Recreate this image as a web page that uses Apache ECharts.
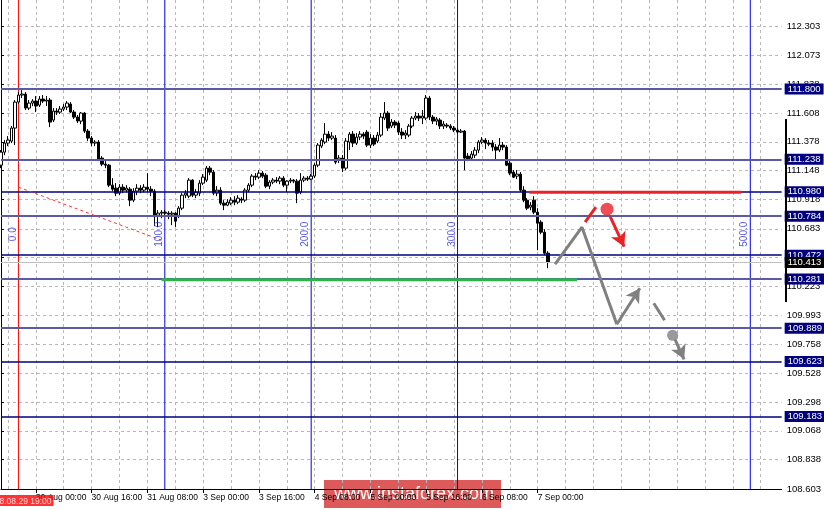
<!DOCTYPE html>
<html>
<head>
<meta charset="utf-8">
<script src="https://cdn.jsdelivr.net/npm/echarts@6/dist/echarts.min.js"></script>
<style>
  html, body { margin: 0; padding: 0; background: #fff; }
  #main { width: 824px; height: 510px; }
</style>
</head>
<body>
<div id="main"></div>
<script>
// USDJPY H1, 29 Aug 14:00 .. 7 Sep 03:00, rows are [open, close, low, high]
const candles = [
  [111.192, 111.296, 111.168, 111.312], [111.296, 111.368, 111.272, 111.392], [111.368, 111.392, 111.344, 111.424],
  [111.384, 111.488, 111.368, 111.504], [111.488, 111.696, 111.352, 111.712], [111.696, 111.752, 111.680, 111.776],
  [111.752, 111.760, 111.728, 111.792], [111.760, 111.648, 111.632, 111.776], [111.648, 111.688, 111.632, 111.712],
  [111.688, 111.704, 111.664, 111.720], [111.704, 111.664, 111.616, 111.744], [111.672, 111.720, 111.656, 111.744],
  [111.720, 111.704, 111.688, 111.752], [111.704, 111.712, 111.664, 111.744], [111.712, 111.536, 111.496, 111.728],
  [111.552, 111.624, 111.536, 111.648], [111.624, 111.616, 111.592, 111.648], [111.616, 111.640, 111.600, 111.664],
  [111.640, 111.656, 111.624, 111.680], [111.656, 111.688, 111.632, 111.704], [111.680, 111.616, 111.608, 111.696],
  [111.616, 111.576, 111.560, 111.632], [111.576, 111.544, 111.528, 111.592], [111.544, 111.608, 111.520, 111.616],
  [111.608, 111.464, 111.448, 111.616], [111.464, 111.408, 111.384, 111.480], [111.408, 111.368, 111.344, 111.424],
  [111.368, 111.376, 111.344, 111.392], [111.376, 111.240, 111.224, 111.392], [111.248, 111.200, 111.184, 111.264],
  [111.200, 111.192, 111.168, 111.224], [111.192, 111.032, 111.016, 111.200], [111.032, 111.000, 110.984, 111.088],
  [111.008, 110.968, 110.944, 111.048], [110.968, 111.016, 110.952, 111.040], [111.016, 110.992, 110.968, 111.040],
  [110.992, 111.008, 110.976, 111.032], [111.000, 110.912, 110.864, 111.016], [110.912, 110.984, 110.896, 111.008],
  [110.984, 111.008, 110.952, 111.040], [111.008, 110.992, 110.968, 111.032], [110.992, 111.016, 110.976, 111.040],
  [111.016, 111.000, 110.976, 111.128], [111.000, 110.984, 110.944, 111.024], [110.984, 110.792, 110.704, 111.000],
  [110.792, 110.808, 110.696, 110.832], [110.808, 110.816, 110.768, 110.832], [110.816, 110.808, 110.784, 110.832],
  [110.808, 110.800, 110.760, 110.824], [110.800, 110.808, 110.712, 110.824], [110.808, 110.744, 110.696, 110.816],
  [110.784, 110.848, 110.768, 110.864], [110.848, 110.952, 110.832, 110.968], [110.952, 110.968, 110.928, 110.992],
  [110.944, 111.072, 110.928, 111.088], [111.072, 110.952, 110.936, 111.080], [110.952, 110.976, 110.928, 111.000],
  [110.968, 111.048, 110.944, 111.072], [111.048, 111.096, 111.032, 111.120], [111.072, 111.168, 111.056, 111.184],
  [111.168, 111.136, 111.112, 111.184], [111.136, 110.968, 110.952, 111.152], [110.968, 110.992, 110.944, 111.024],
  [110.992, 110.888, 110.872, 111.016], [110.888, 110.872, 110.832, 110.912], [110.872, 110.896, 110.864, 110.920],
  [110.888, 110.912, 110.872, 110.936], [110.912, 110.896, 110.872, 110.944], [110.896, 110.928, 110.880, 110.952],
  [110.920, 110.912, 110.888, 110.936], [110.912, 110.992, 110.896, 111.008], [110.992, 111.032, 110.976, 111.048],
  [111.032, 111.104, 111.016, 111.120], [111.104, 111.096, 111.072, 111.128], [111.096, 111.128, 111.080, 111.152],
  [111.128, 111.104, 111.088, 111.144], [111.112, 111.024, 111.008, 111.128], [111.024, 111.056, 111.000, 111.072],
  [111.056, 111.072, 111.040, 111.088], [111.072, 111.064, 111.048, 111.096], [111.064, 111.088, 111.040, 111.104],
  [111.088, 111.032, 111.016, 111.104], [111.032, 111.064, 110.976, 111.072], [111.064, 111.072, 111.048, 111.088],
  [111.072, 111.064, 111.048, 111.080], [111.064, 110.968, 110.888, 111.080], [110.976, 111.072, 110.960, 111.128],
  [111.072, 111.088, 111.056, 111.104], [111.088, 111.080, 111.064, 111.104], [111.080, 111.104, 111.072, 111.120],
  [111.104, 111.192, 111.088, 111.208], [111.192, 111.352, 111.176, 111.368], [111.344, 111.392, 111.328, 111.408],
  [111.376, 111.440, 111.360, 111.528], [111.440, 111.408, 111.384, 111.464], [111.408, 111.424, 111.392, 111.456],
  [111.408, 111.216, 111.200, 111.432], [111.232, 111.248, 111.208, 111.272], [111.248, 111.168, 111.136, 111.272],
  [111.168, 111.384, 111.152, 111.408], [111.376, 111.440, 111.312, 111.456], [111.440, 111.368, 111.336, 111.464],
  [111.368, 111.416, 111.352, 111.448], [111.416, 111.440, 111.392, 111.464], [111.440, 111.424, 111.400, 111.456],
  [111.456, 111.352, 111.336, 111.472], [111.352, 111.408, 111.328, 111.440], [111.408, 111.360, 111.344, 111.432],
  [111.384, 111.432, 111.368, 111.456], [111.432, 111.576, 111.416, 111.608], [111.568, 111.608, 111.552, 111.696],
  [111.608, 111.488, 111.464, 111.624], [111.504, 111.536, 111.488, 111.560], [111.536, 111.512, 111.488, 111.552],
  [111.528, 111.456, 111.432, 111.544], [111.456, 111.432, 111.400, 111.488], [111.432, 111.448, 111.400, 111.472],
  [111.432, 111.504, 111.416, 111.520], [111.504, 111.568, 111.488, 111.584], [111.568, 111.584, 111.552, 111.616],
  [111.584, 111.568, 111.544, 111.608], [111.568, 111.584, 111.520, 111.632], [111.568, 111.728, 111.552, 111.752],
  [111.728, 111.576, 111.552, 111.744], [111.576, 111.544, 111.520, 111.592], [111.544, 111.560, 111.512, 111.576],
  [111.552, 111.504, 111.480, 111.568], [111.504, 111.520, 111.480, 111.544], [111.512, 111.504, 111.488, 111.528],
  [111.504, 111.488, 111.472, 111.520], [111.488, 111.472, 111.456, 111.504], [111.472, 111.456, 111.440, 111.488],
  [111.456, 111.464, 111.448, 111.480], [111.464, 111.248, 111.152, 111.472], [111.264, 111.240, 111.224, 111.288],
  [111.248, 111.280, 111.232, 111.304], [111.272, 111.312, 111.248, 111.336], [111.312, 111.376, 111.288, 111.392],
  [111.376, 111.392, 111.360, 111.416], [111.392, 111.368, 111.320, 111.408], [111.368, 111.360, 111.344, 111.392],
  [111.368, 111.336, 111.304, 111.392], [111.336, 111.312, 111.232, 111.360], [111.312, 111.352, 111.296, 111.408],
  [111.352, 111.336, 111.312, 111.376], [111.336, 111.192, 111.184, 111.352], [111.208, 111.128, 111.112, 111.224],
  [111.136, 111.096, 111.088, 111.152], [111.104, 111.120, 111.080, 111.152], [111.120, 110.992, 110.976, 111.136],
  [110.992, 110.912, 110.896, 111.024], [110.912, 110.848, 110.832, 110.928], [110.856, 110.872, 110.832, 110.896],
  [110.912, 110.816, 110.800, 110.944], [110.816, 110.728, 110.512, 110.848], [110.736, 110.656, 110.640, 110.752],
  [110.656, 110.488, 110.472, 110.680], [110.488, 110.413, 110.368, 110.504]
]

const priceTicks = [112.303, 112.073, 111.838, 111.608, 111.378, 111.148, 110.918, 110.683, 110.453,
  110.223, 109.993, 109.758, 109.528, 109.298, 109.068, 108.838, 108.603]
const levels = [111.800, 111.238, 110.980, 110.784, 110.472, 110.281, 109.889, 109.623, 109.183]
const strongLevels = [110.980, 110.472, 109.623, 109.183]
const lastPrice = 110.413
const timeTickIdx = [10, 26, 42, 58, 74, 90, 106, 122, 138, 154]
const fiboIdx = [5, 47, 89, 131, 215]
const fiboNames = ['0.0', '100.0', '200.0', '300.0', '500.0']
const fiboLabelPrice = 110.640
const startMark = { idx: 5, text: '2018.08.29 19:00' }

// drawn-in analysis, in [bar index, price]
const redDashed = [[5, 111.016], [46, 110.592]]
const greenLine = [[46.1, 110.276], [165.3, 110.276]]
const redLine = [[151.6, 110.976], [212.4, 110.976]]
const grayPath = [[159.0, 110.400], [166.7, 110.696], [176.7, 109.920]]
const grayArrowUp = [[176.7, 109.920], [183.3, 110.208]]
const grayDash = [[187.3, 110.088], [190.4, 109.952]]
const grayDot = [192.7, 109.832]
const grayArrowDown = [[193.4, 109.800], [196.0, 109.640]]
const redDash = [[167.6, 110.736], [170.7, 110.856]]
const redDot = [173.9, 110.840]
const redArrowDown = [[174.8, 110.780], [178.8, 110.540]]

const barCount = 225
const monthNames = ['Jan', 'Feb', 'Mar', 'Apr', 'May', 'Jun', 'Jul', 'Aug', 'Sep', 'Oct', 'Nov', 'Dec']
const times = []
let t = Date.UTC(2018, 7, 29, 14)
while (times.length < barCount) {
  let d = new Date(t)
  if (d.getUTCDay() !== 0 && d.getUTCDay() !== 6) {
    times.push(d.getUTCDate() + ' ' + monthNames[d.getUTCMonth()] + ' ' + String(d.getUTCHours()).padStart(2, '0') + ':00')
  }
  t += 3600000
}

const yMin = 108.603
const yMax = 112.512
const font = 'Liberation Sans'

let levelLines = levels.map(function (v) {
  let strong = strongLevels.indexOf(v) >= 0
  return {
    yAxis: v,
    lineStyle: { color: strong ? '#000080' : '#5a5aa6', width: strong ? 1.5 : 2, type: 'solid' },
    label: { backgroundColor: '#000080' }
  }
})
levelLines.push({
  yAxis: lastPrice,
  lineStyle: { color: '#c0c0c0', width: 1, type: 'solid' },
  label: { backgroundColor: '#000000' }
})

// one thin line series per time zone
let timeZoneSeries = fiboIdx.map(function (idx, k) {
  return {
    name: 'zone ' + fiboNames[k],
    type: 'line', xAxisIndex: 1, showSymbol: false, clip: false, silent: true, z: 1,
    data: [[idx, yMin], [idx, yMax]],
    lineStyle: { color: k === 0 ? '#ff0000' : '#0000ee', width: 1 }
  }
})

let fiboLabels = fiboIdx.map(function (idx, k) {
  return { value: [idx - 1.6, fiboLabelPrice], name: fiboNames[k] }
})

function seg (pts, color, width, arrow) {
  return [
    { coord: pts[0], lineStyle: { color: color, width: width, type: 'solid' } },
    { coord: pts[1], symbol: arrow ? 'arrow' : 'none', symbolSize: [12, 14] }
  ]
}

let myChart = echarts.init(document.getElementById('main'))
let option = {
  animation: false,
  backgroundColor: '#ffffff',
  textStyle: { fontFamily: font },
  grid: { left: 1, right: 38, top: 0, bottom: 21 },
  xAxis: [
    {
      type: 'category',
      data: times,
      boundaryGap: false,
      axisLine: { lineStyle: { color: '#000', width: 1 } },
      axisTick: { interval: function (i) { return timeTickIdx.indexOf(i) >= 0 }, length: 4, lineStyle: { color: '#000' } },
      axisLabel: {
        interval: function (i) { return timeTickIdx.indexOf(i) >= 0 },
        align: 'left', margin: 4, color: '#000', fontSize: 8.5, fontFamily: font
      },
      splitLine: { show: true, interval: function (i) { return i % 8 === 2 }, lineStyle: { color: '#b8b8b8', type: [3, 3], width: 1 } }
    },
    { type: 'value', min: 0, max: barCount - 1, show: false }
  ],
  yAxis: {
    type: 'value',
    position: 'right',
    min: yMin,
    max: yMax,
    axisLine: { show: true, lineStyle: { color: '#000', width: 1 } },
    axisTick: { show: true, customValues: priceTicks, length: 3, lineStyle: { color: '#000' } },
    axisLabel: {
      customValues: priceTicks, margin: 5, color: '#000', fontSize: 9.5, fontFamily: font,
      formatter: function (v) { return v.toFixed(3) }
    },
    splitLine: { show: true, lineStyle: { color: '#b8b8b8', type: [3, 3], width: 1 } }
  },
  series: timeZoneSeries.concat([
    {
      name: 'USDJPY',
      type: 'candlestick',
      data: candles,
      barWidth: 3,
      clip: false,
      itemStyle: { color: '#ffffff', color0: '#000000', borderColor: '#000000', borderColor0: '#000000', borderWidth: 1 },
      markLine: {
        silent: true,
        symbol: ['none', 'none'],
        precision: 3,
        label: {
          show: true, position: 'end', distance: 3, color: '#fff', fontSize: 9.5, fontFamily: font,
          padding: [1, 3, 0, 3],
          formatter: function (p) { return Number(p.value).toFixed(3) }
        },
        data: levelLines
      }
    },
    {
      name: 'zone labels',
      type: 'scatter', xAxisIndex: 1, clip: false, symbolSize: 0, z: 6, silent: true,
      data: fiboLabels,
      label: {
        show: true, position: 'inside', rotate: 90, formatter: '{b}',
        color: '#2a2ae6', fontSize: 10, fontFamily: font
      }
    },
    {
      name: 'start time',
      type: 'scatter', xAxisIndex: 1, clip: false, symbolSize: 0, z: 9, silent: true,
      data: [{ value: [startMark.idx, yMin], name: startMark.text }],
      label: {
        show: true, position: 'bottom', distance: 6, formatter: '{b}', color: '#fff',
        backgroundColor: '#ff0000', padding: [2, 2, 0, 2], fontSize: 8.5, fontFamily: font
      }
    },
    {
      name: 'dashed',
      type: 'line', xAxisIndex: 1, data: redDashed, showSymbol: false, clip: false, z: 6,
      lineStyle: { color: '#ff3030', width: 1, type: [3, 3] }
    },
    {
      name: 'support',
      type: 'line', xAxisIndex: 1, data: greenLine, showSymbol: false, clip: false, z: 6,
      lineStyle: { color: '#2fb24a', width: 3 }
    },
    {
      name: 'resistance',
      type: 'line', xAxisIndex: 1, data: redLine, showSymbol: false, clip: false, z: 6,
      lineStyle: { color: '#ea2228', width: 3 }
    },
    {
      name: 'forecast',
      type: 'line', xAxisIndex: 1, data: grayPath, showSymbol: false, clip: false, z: 6,
      lineStyle: { color: '#808080', width: 3 },
      markLine: {
        silent: true,
        z: 7,
        symbol: ['none', 'none'],
        label: { show: false },
        data: [
          seg(grayArrowUp, '#808080', 3, true),
          seg(grayDash, '#808080', 3, false),
          seg(grayArrowDown, '#808080', 3, true),
          seg(redDash, '#ea2228', 3, false),
          seg(redArrowDown, '#ea2228', 3, true)
        ]
      }
    },
    {
      name: 'dots',
      type: 'scatter', xAxisIndex: 1, clip: false, z: 8,
      data: [
        { value: redDot, symbolSize: 13, itemStyle: { color: '#ea2228' } },
        { value: grayDot, symbolSize: 11, itemStyle: { color: '#808080' } }
      ]
    }
  ]),
  graphic: [
    { type: 'rect', shape: { x: 785, y: 119, width: 2, height: 183 }, style: { fill: '#000' }, z: 50 },
    {
      type: 'group', left: 324, top: 480, z: 100,
      children: [
        { type: 'rect', shape: { x: 0, y: 0, width: 177, height: 28 }, style: { fill: 'rgba(216, 60, 60, 0.85)' } },
        { type: 'text', x: 10, y: 5, style: { text: 'www.instaforex.com', fill: '#fff', font: '18px "Liberation Sans"' } }
      ]
    }
  ]
}
myChart.setOption(option)
</script>
</body>
</html>
